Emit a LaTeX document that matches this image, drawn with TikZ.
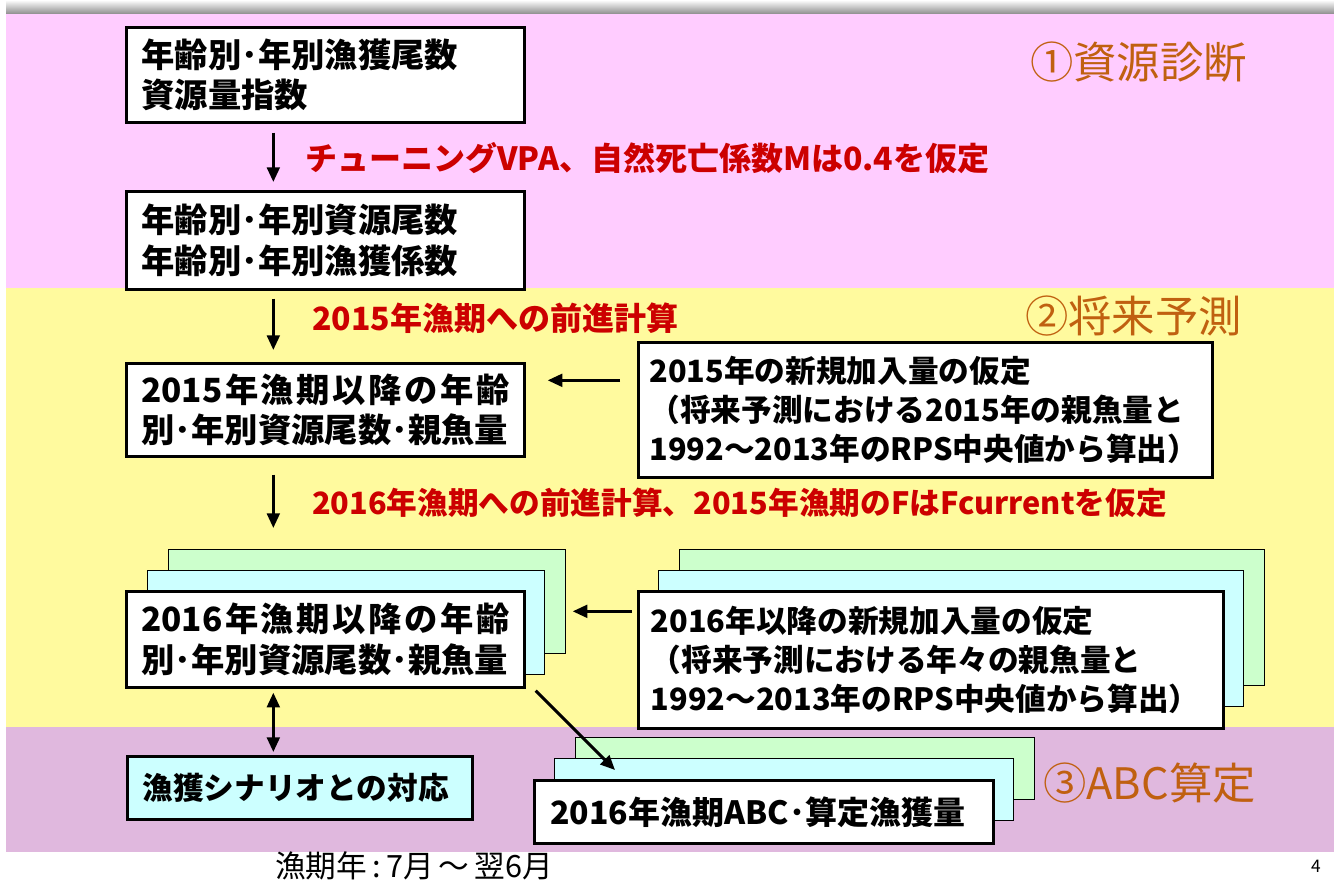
\documentclass[tikz,border=0pt]{standalone}
\usepackage{fontspec}
\setmainfont{Noto Sans CJK JP}
\usetikzlibrary{arrows.meta,calc}
\definecolor{pinkbg}{HTML}{FFCCFF}
\definecolor{yellowbg}{HTML}{FFFA9E}
\definecolor{purplebg}{HTML}{E0B8DE}
\definecolor{greenbx}{HTML}{CCFFCC}
\definecolor{cyanbx}{HTML}{CCFFFF}
\definecolor{redtxt}{HTML}{CC0000}
\definecolor{orangetxt}{HTML}{C06010}
\tikzset{
  box/.style={draw=black, line width=2pt, fill=white, anchor=north west,
    inner xsep=11.25pt, inner ysep=1pt, align=left,
    font=\fontsize{25pt}{30.5pt}\selectfont\bfseries},
  boxsm/.style={box, font=\fontsize{23pt}{29.5pt}\selectfont\bfseries},
  backbox/.style={draw=black, line width=1pt, anchor=north west, inner sep=0pt},
  arr/.style={line width=2.2pt, -{Triangle[length=11pt,width=9.5pt]}},
  darr/.style={line width=2.2pt, {Triangle[length=11pt,width=9.5pt]}-{Triangle[length=11pt,width=9.5pt]}},
  redlab/.style={anchor=west, inner sep=0pt, text=redtxt, font=\fontsize{24pt}{28pt}\selectfont\bfseries},
  seclab/.style={anchor=west, inner sep=0pt, text=orangetxt, font=\fontsize{32.5pt}{36pt}\selectfont},
}
\begin{document}
\begin{tikzpicture}[x=0.75pt,y=-0.75pt]
\useasboundingbox (0,0) rectangle (1334,881);
\fill[white] (0,0) rectangle (1334,881);
\shade[top color=white, bottom color=black!45] (6,0) rectangle (1334,14);
\fill[pinkbg] (6,14) rectangle (1334,288);
\fill[yellowbg] (6,288) rectangle (1334,727);
\fill[purplebg] (6,727) rectangle (1334,852);

% section labels
\node[seclab] (s1) at (1030,62) {①資源診断};
\node[seclab] (s2) at (1025,316) {②将来予測};
\node[seclab] (s3) at (1043,783) {③ABC算定};

% boxes
\node[box, minimum width=298.5pt, minimum height=71.25pt, text width=276pt] (b1) at (125,26)
  {年齢別･年別漁獲尾数\\資源量指数};
\node[box, minimum width=298.5pt, minimum height=73.5pt, text width=276pt] (b2) at (125,190)
  {年齢別･年別資源尾数\\年齢別･年別漁獲係数};
\node[box, minimum width=298.5pt, minimum height=69.75pt, text width=276pt] (b3) at (125,362)
  {\makebox[276pt][s]{2015\hfill 年\hfill 漁\hfill 期\hfill 以\hfill 降\hfill の\hfill 年\hfill 齢}\\別･年別資源尾数･親魚量};
\node[boxsm, minimum width=430.5pt, minimum height=101.25pt, text width=414pt, inner xsep=8.25pt] (b4) at (637,341)
  {2015年の新規加入量の仮定\\（将来予測における2015年の親魚量と\\1992～2013年のRPS中央値から算出）};

% stacked box 5
\node[backbox, fill=greenbx, minimum width=297.75pt, minimum height=78pt] (b5g) at (168,549) {};
\node[backbox, fill=cyanbx, minimum width=297.75pt, minimum height=78pt] (b5c) at (147,570) {};
\node[box, minimum width=298.5pt, minimum height=72pt, text width=276pt] (b5) at (125,590)
  {\makebox[276pt][s]{2016\hfill 年\hfill 漁\hfill 期\hfill 以\hfill 降\hfill の\hfill 年\hfill 齢}\\別･年別資源尾数･親魚量};

% stacked box 6
\node[backbox, fill=greenbx, minimum width=438.75pt, minimum height=102pt] (b6g) at (679,549) {};
\node[backbox, fill=cyanbx, minimum width=438.75pt, minimum height=102pt] (b6c) at (658,570) {};
\node[boxsm, minimum width=438.75pt, minimum height=102.75pt, text width=420pt, inner xsep=8.25pt] (b6) at (637,590)
  {2016年以降の新規加入量の仮定\\（将来予測における年々の親魚量と\\1992～2013年のRPS中央値から算出）};

% stacked box 7
\node[backbox, fill=greenbx, minimum width=344.25pt, minimum height=46.5pt] (b7g) at (575,737) {};
\node[backbox, fill=cyanbx, minimum width=344.25pt, minimum height=46.5pt] (b7c) at (554,758) {};
\node[box, font=\fontsize{24pt}{29pt}\selectfont\bfseries, minimum width=344.25pt, minimum height=47.25pt, text width=320pt, inner xsep=11.25pt] (b7) at (533,779)
  {2016年漁期ABC･算定漁獲量};

% scenario box
\node[boxsm, fill=cyanbx, minimum width=258.75pt, minimum height=47.25pt, text width=236pt, inner xsep=10.5pt] (b8) at (126,755)
  {漁獲シナリオとの対応};

% red labels
\node[redlab] (l1) at (305,158) {チューニングVPA、自然死亡係数Mは0.4を仮定};
\node[redlab] (l2) at (312,318) {2015年漁期への前進計算};
\node[redlab, font=\fontsize{23pt}{28pt}\selectfont\bfseries] (l3) at (312,503) {2016年漁期への前進計算、2015年漁期のFはFcurrentを仮定};

% arrows
\draw[arr] ($(b1.south)+(-52,9)$) -- ($(b2.north)+(-52,-8)$);
\draw[arr] ($(b2.south)+(-52,8)$) -- ($(b3.north)+(-52,-12)$);
\draw[arr] ($(b3.south)+(-52,17)$) -- ($(b5.north)+(-52,-62)$);
\draw[arr] ($(b4.west)+(-17,-29.5)$) -- ($(b3.east)+(22,-29.5)$);
\draw[arr] ($(b6.west)+(-5,-48.5)$) -- ($(b5.east)+(47,-28)$);
\draw[arr] ($(b5.south east)+(10,2)$) -- ($(b7.north west)+(82,-9)$);
\draw[darr] ($(b5.south)+(-52,4)$) -- ($(b8.north)+(-26.5,-3)$);

% footer
\node[anchor=west, inner sep=0pt, font=\fontsize{23pt}{26pt}\selectfont] (foot) at (275,866) {漁期年\,:\,7月\,～\,翌6月};
\node[inner sep=0pt, font=\fontsize{13pt}{15pt}\selectfont] (pg) at (1316,866) {4};
\end{tikzpicture}
\end{document}
